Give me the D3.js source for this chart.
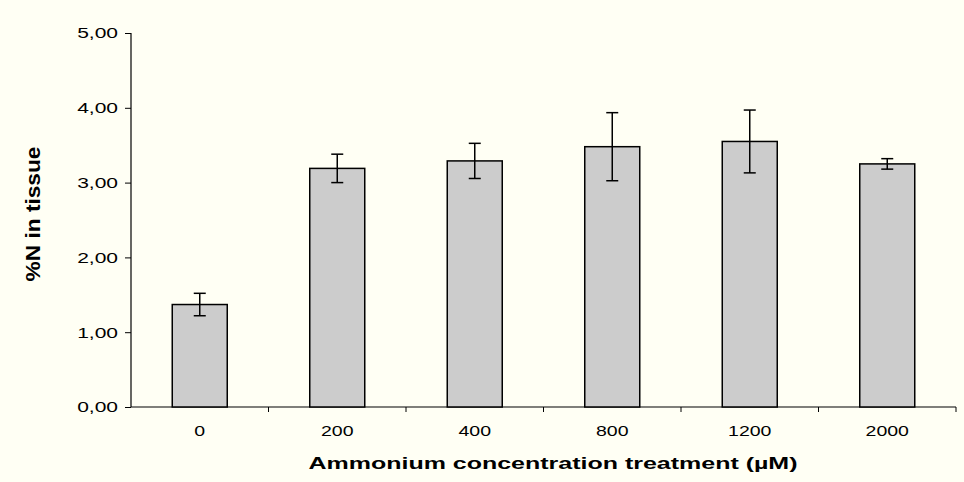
<!DOCTYPE html>
<html>
<head>
<meta charset="utf-8">
<script src="https://cdn.jsdelivr.net/npm/d3@7"></script>
<style>
  html, body { margin: 0; padding: 0; background: #FFFFF4; }
  svg { display: block; }
  text { font-family: "Liberation Sans", Arial, sans-serif; }
</style>
</head>
<body>
<svg id="chart" width="964" height="482"></svg>
<script>
// Nitrogen content of tissue by ammonium treatment (mean ± error)
const categories = ["0", "200", "400", "800", "1200", "2000"];
const means = [1.37, 3.19, 3.29, 3.48, 3.55, 3.25];
const errors = [0.15, 0.19, 0.235, 0.455, 0.42, 0.07];
const yTicks = [0, 1, 2, 3, 4, 5];

const svg = d3.select("#chart");
const W = 964, H = 482;
svg.append("rect").attr("width", W).attr("height", H).attr("fill", "#FFFFF4");

const x = d3.scaleBand().domain(categories).range([131, 956])
  .paddingInner(0.6).paddingOuter(0.3);
const y = d3.scaleLinear().domain([0, 5]).range([407, 33]);

const fmt = v => d3.format(".2f")(v).replace(".", ",");

// widen glyphs horizontally by factor k, keeping the text anchor
function widen(sel, k) {
  sel.each(function () {
    const len = this.getComputedTextLength();
    d3.select(this).attr("textLength", len * k).attr("lengthAdjust", "spacingAndGlyphs");
  });
}

// Y axis
const yAxis = svg.append("g").attr("transform", "translate(131,0)")
  .call(d3.axisLeft(y).tickValues(yTicks).tickFormat(fmt).tickSize(6).tickPadding(7));
yAxis.select(".domain").attr("stroke", "#000").attr("stroke-width", 1.2).attr("d", "M0,33V407");
yAxis.selectAll(".tick line").attr("stroke", "#000");
yAxis.selectAll(".tick text").attr("font-size", 15).attr("fill", "#000")
  .style("font-family", "'Liberation Sans', Arial, sans-serif")
  .call(widen, 1.4);

// X axis with category boundary ticks
const xAxisG = svg.append("g").attr("transform", "translate(0,407)");
xAxisG.append("line").attr("x1", 131).attr("x2", 956).attr("y1", 0).attr("y2", 0)
  .attr("stroke", "#000").attr("stroke-width", 1.2);
const step = x.step();
const bounds = d3.range(categories.length + 1).map(i => x.range()[0] + i * step);
xAxisG.selectAll("line.bt").data(bounds.slice(1)).join("line").attr("class", "bt")
  .attr("x1", d => d).attr("x2", d => d).attr("y1", 0).attr("y2", 5)
  .attr("stroke", "#000");
xAxisG.selectAll("text").data(categories).join("text")
  .attr("x", d => x(d) + x.bandwidth() / 2).attr("y", 29)
  .attr("text-anchor", "middle").attr("font-size", 15).attr("fill", "#000")
  .text(d => d)
  .call(widen, 1.3);

// Bars
svg.append("g").selectAll("rect").data(categories).join("rect")
  .attr("x", d => x(d)).attr("width", x.bandwidth())
  .attr("y", (d, i) => y(means[i])).attr("height", (d, i) => y(0) - y(means[i]))
  .attr("fill", "#CCCCCC").attr("stroke", "#000").attr("stroke-width", 1.5);

// Error bars
const eb = svg.append("g").attr("stroke", "#000").attr("stroke-width", 1.5);
categories.forEach((c, i) => {
  const cx = x(c) + x.bandwidth() / 2;
  const hi = y(means[i] + errors[i]), lo = y(means[i] - errors[i]);
  eb.append("line").attr("x1", cx).attr("x2", cx).attr("y1", hi).attr("y2", lo);
  eb.append("line").attr("x1", cx - 6).attr("x2", cx + 6).attr("y1", hi).attr("y2", hi);
  eb.append("line").attr("x1", cx - 6).attr("x2", cx + 6).attr("y1", lo).attr("y2", lo);
});

// Axis titles
svg.append("text").attr("x", 553).attr("y", 469).attr("text-anchor", "middle")
  .attr("font-size", 17).attr("font-weight", "bold").attr("fill", "#000")
  .attr("textLength", 489).attr("lengthAdjust", "spacingAndGlyphs")
  .text("Ammonium concentration treatment (µM)");
svg.append("text").attr("transform", "translate(40,214) rotate(-90)")
  .attr("text-anchor", "middle").attr("font-size", 20).attr("font-weight", "bold")
  .attr("fill", "#000")
  .attr("textLength", 135).attr("lengthAdjust", "spacingAndGlyphs")
  .text("%N in tissue");
</script>
</body>
</html>
